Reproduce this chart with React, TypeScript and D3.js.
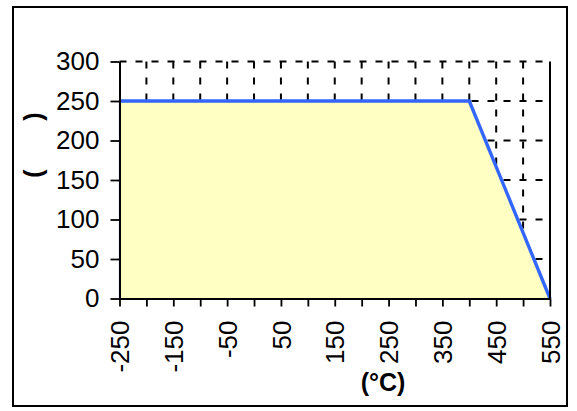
import { useRef, useEffect } from "react";
import * as d3 from "d3";

// temperature (°C) vs value
const temps = [-250, 400, 550];
const values = [250, 250, 0];
const xTicks = d3.range(-250, 551, 50);
const xLabels = d3.range(-250, 551, 100);
const yTicks = [0, 50, 100, 150, 200, 250, 300];

const W = 577;
const H = 411;

export default function App() {
    const ref = useRef<SVGSVGElement>(null);

    useEffect(() => {
        if (!ref.current) return;
        const svg = d3.select(ref.current);
        svg.selectAll("*").remove();

        const x = d3.scaleLinear().domain([-250, 550]).range([119.5, 550]);
        const y = d3.scaleLinear().domain([0, 300]).range([298.5, 61.5]);
        const font = "Liberation Sans, Arial, sans-serif";

        svg.append("rect").attr("width", W).attr("height", H).attr("fill", "#fff");
        svg.append("rect")
            .attr("x", 13).attr("y", 7).attr("width", 554).attr("height", 399)
            .attr("fill", "none").attr("stroke", "#000").attr("stroke-width", 2);

        // grid
        const grid = svg.append("g").attr("stroke", "#000").attr("stroke-width", 2)
            .attr("stroke-dasharray", "7,9");
        grid.selectAll("line.v").data(xTicks.slice(1, -1)).join("line")
            .attr("x1", d => x(d)).attr("x2", d => x(d))
            .attr("y1", y(300)).attr("y2", y(0));
        grid.selectAll("line.h").data(yTicks.slice(1)).join("line")
            .attr("x1", x(-250)).attr("x2", x(550))
            .attr("y1", d => y(d)).attr("y2", d => y(d));

        const pts = temps.map((t, i) => [t, values[i]] as [number, number]);

        const area = d3.area<[number, number]>()
            .x(d => x(d[0])).y0(y(0)).y1(d => y(d[1]));
        svg.append("path").datum(pts).attr("d", area)
            .attr("fill", "#FFFFC4").attr("stroke", "#3366FF").attr("stroke-width", 1.2);

        const line = d3.line<[number, number]>().x(d => x(d[0])).y(d => y(d[1]));
        svg.append("path").datum(pts).attr("d", line)
            .attr("fill", "none").attr("stroke", "#3366FF").attr("stroke-width", 3.4);

        // right border of plot
        svg.append("line").attr("x1", x(550)).attr("x2", x(550))
            .attr("y1", y(300)).attr("y2", y(0)).attr("stroke", "#000").attr("stroke-width", 2);

        // y axis
        const yAxis = svg.append("g").attr("transform", `translate(${x(-250)},0)`)
            .call(d3.axisLeft(y).tickValues(yTicks).tickSize(9).tickPadding(11).tickSizeOuter(0));
        yAxis.select(".domain").attr("stroke-width", 2);
        yAxis.selectAll(".tick line").attr("stroke-width", 1.8);
        yAxis.selectAll("text").attr("font-family", font).attr("font-size", 26).attr("fill", "#000");

        // x axis
        const xAxis = svg.append("g").attr("transform", `translate(0,${y(0)})`)
            .call(d3.axisBottom(x).tickValues(xTicks).tickSize(8).tickSizeOuter(0)
                .tickFormat(d => (xLabels.includes(+d) ? String(d) : "")));
        xAxis.select(".domain").attr("stroke-width", 2);
        xAxis.selectAll(".tick line").attr("stroke-width", 1.8);
        xAxis.selectAll("text")
            .attr("font-family", font).attr("font-size", 26).attr("fill", "#000")
            .attr("transform", "rotate(-90)")
            .attr("text-anchor", "end")
            .attr("x", -22).attr("y", 0).attr("dy", "0.35em");

        // axis titles
        svg.append("text").attr("x", 383).attr("y", 391)
            .attr("text-anchor", "middle").attr("font-family", font)
            .attr("font-size", 25).attr("font-weight", "bold").text("(°C)");
        svg.append("text").attr("transform", "translate(42,145) rotate(-90)")
            .attr("text-anchor", "middle").attr("font-family", font)
            .attr("font-size", 25).attr("font-weight", "bold")
            .style("white-space", "pre").text("(       )");
    }, []);

    return (
        <svg ref={ref} width={W} height={H} style={{ position: "absolute", left: 0, top: 0 }} />
    );
}
